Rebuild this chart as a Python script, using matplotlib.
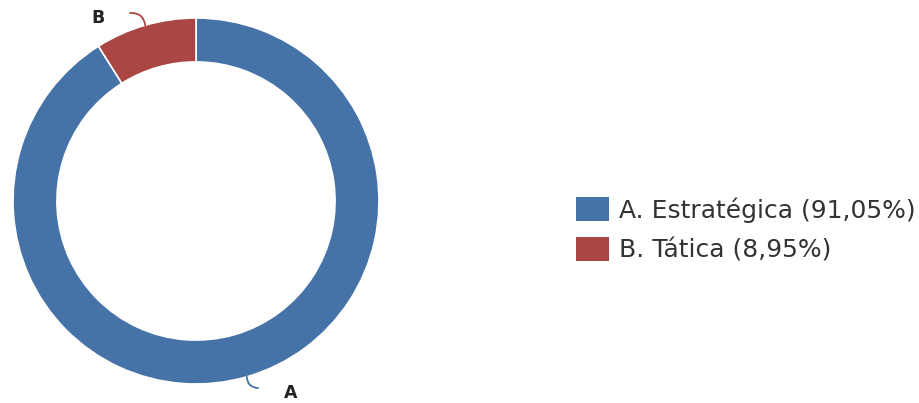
import matplotlib
matplotlib.use("Agg")
import matplotlib.pyplot as plt
import numpy as np
from matplotlib.patches import Patch

categories = ["A", "B"]
legend_labels = ["A. Estratégica (91,05%)", "B. Tática (8,95%)"]
values = [91.05, 8.95]
colors = ["#4572A7", "#AA4643"]

W, H = 920, 403
fig = plt.figure(figsize=(W / 100, H / 100), dpi=100)
cx, cy, R = 196, 201, 183
ax = fig.add_axes([(cx - R) / W, (H - cy - R) / H, 2 * R / W, 2 * R / H])

wedges, _ = ax.pie(values, colors=colors, startangle=90, counterclock=False,
                   radius=1.0, wedgeprops=dict(width=0.24, edgecolor="white", linewidth=1.2))
ax.set_xlim(-1, 1)
ax.set_ylim(-1, 1)
ax.set_aspect("equal")
ax.axis("off")

# data labels with connectors
total = sum(values)
start = 0.0
label_pos = {"A": ((291 - cx) / R, (cy - 393) / R), "B": ((98 - cx) / R, (cy - 18) / R)}
conn_end = {"A": ((258 - cx) / R, (cy - 388) / R), "B": ((130 - cx) / R, (cy - 13) / R)}
for cat, v, c in zip(categories, values, colors):
    mid = start + v / total * 360 / 2
    start += v / total * 360
    th = np.deg2rad(mid)
    px, py = np.sin(th) * 1.0, np.cos(th) * 1.0
    ex, ey = conn_end[cat]
    ax.annotate("", xy=(ex, ey), xytext=(px, py),
                arrowprops=dict(arrowstyle="-", color=c, lw=1.3,
                                shrinkA=0, shrinkB=0,
                                connectionstyle="arc3,rad=0.45"),
                annotation_clip=False)
    tx, ty = label_pos[cat]
    ax.text(tx, ty, cat, ha="center", va="center", fontsize=12.5, fontweight="bold",
            color="#222222", clip_on=False)

handles = [Patch(facecolor=c, edgecolor="none") for c in colors]
fig.legend(handles, legend_labels, loc="center left",
           bbox_to_anchor=(553 / W, 1 - 230 / H), frameon=False,
           fontsize=18, handlelength=1.35, handleheight=1.1, handletextpad=0.38,
           labelspacing=0.58, labelcolor="#333333")

fig.savefig("out.png", dpi=100)
